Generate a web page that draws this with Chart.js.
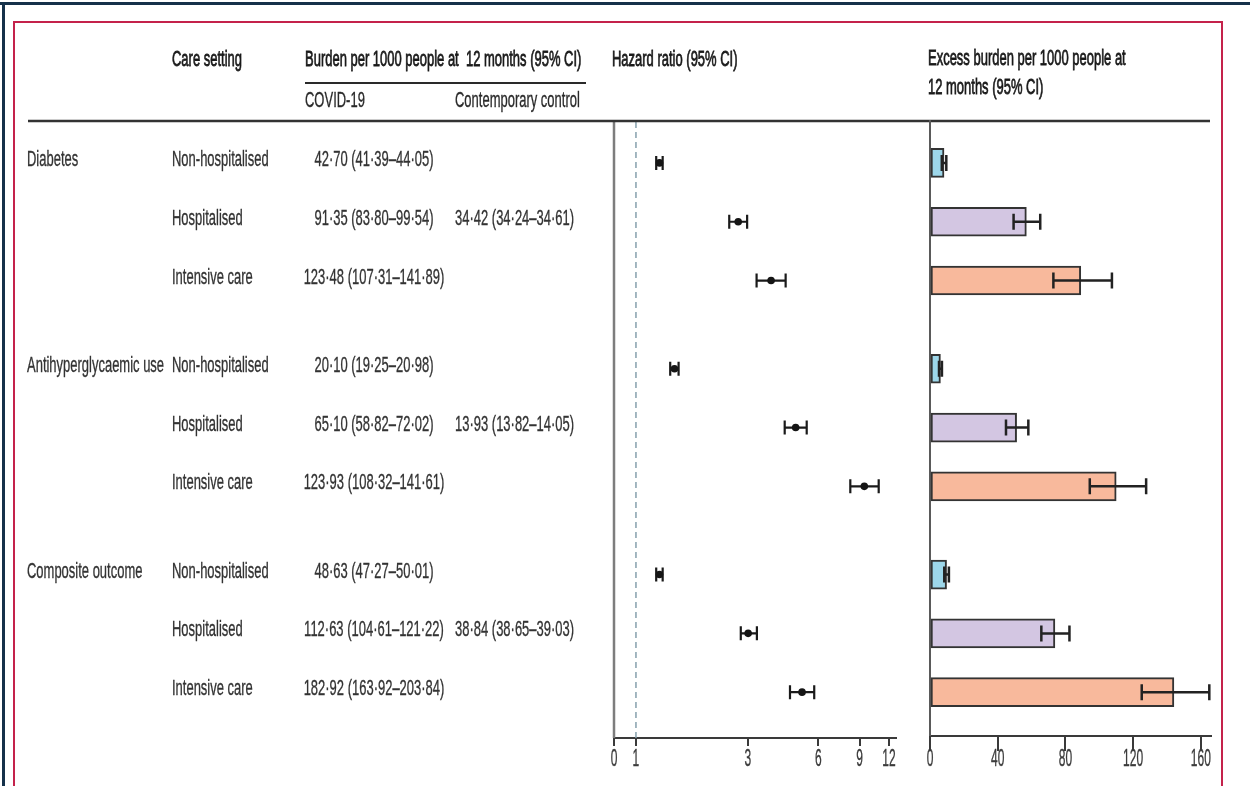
<!DOCTYPE html>
<html>
<head>
<meta charset="utf-8">
<script src="https://cdn.jsdelivr.net/npm/chart.js@4.4.1/dist/chart.umd.min.js"></script>
<style>
  html, body { margin: 0; padding: 0; background: #ffffff; }
  #figure { position: relative; width: 1250px; height: 786px; overflow: hidden; background: #ffffff; }
  #figure canvas { position: absolute; left: 0; top: 0; }
</style>
</head>
<body>
<div id="figure">
  <canvas id="hazardCanvas" width="1250" height="786"></canvas>
  <canvas id="burdenCanvas" width="1250" height="786"></canvas>
</div>
<script>
// ---- data ---------------------------------------------------------------
const outcomes = ['Diabetes', 'Antihyperglycaemic use', 'Composite outcome'];
const careSettings = ['Non-hospitalised', 'Hospitalised', 'Intensive care'];

// Burden per 1000 people at 12 months, COVID-19 group (one entry per outcome x care setting)
const covidBurden = [42.70, 91.35, 123.48, 20.10, 65.10, 123.93, 48.63, 112.63, 182.92];
const covidLower  = [41.39, 83.80, 107.31, 19.25, 58.82, 108.32, 47.27, 104.61, 163.92];
const covidUpper  = [44.05, 99.54, 141.89, 20.98, 72.02, 141.61, 50.01, 121.22, 203.84];

// Burden per 1000 people at 12 months, contemporary control (one entry per outcome)
const controlBurden = [34.42, 13.93, 38.84];
const controlLower  = [34.24, 13.82, 38.65];
const controlUpper  = [34.61, 14.05, 39.03];

// Hazard ratio (95% CI)
const hazardRatio = [1.26, 2.73, 3.77, 1.46, 4.80, 9.42, 1.26, 3.01, 5.11];
const hazardLower = [1.22, 2.50, 3.27, 1.40, 4.31, 8.21, 1.22, 2.80, 4.54];
const hazardUpper = [1.30, 2.98, 4.35, 1.52, 5.35, 10.85, 1.30, 3.28, 5.76];

// Excess burden per 1000 people at 12 months (95% CI)
const excessBurden = [8.28, 56.93, 89.06, 6.17, 51.17, 110.00, 9.79, 73.79, 144.08];
const excessLower  = [6.97, 49.38, 72.89, 5.32, 44.89, 94.39, 8.43, 65.77, 125.08];
const excessUpper  = [9.63, 65.12, 107.47, 7.05, 58.09, 127.68, 11.17, 82.38, 165.00];

// Axis tick labels
const hazardTicks = [0, 1, 3, 6, 9, 12];
const burdenTicks = [0, 40, 80, 120, 160];

// ---- layout & style -----------------------------------------------------
const settingColours = ['#9dd7ea', '#d3c6e2', '#f8b99c'];
const FONT = '"Liberation Sans", Arial, sans-serif';
const SQUEEZE = 0.59;          // condensed lettering
const GROUP_GAP = 0.5;         // blank space between outcome blocks, in rows
const ROW_MIN = -0.73;
const HR_ROW_MAX = 9.78;
const BAR_ROW_MAX = 9.745;

function rowPos(i) {
  return Math.floor(i / 3) * (3 + GROUP_GAP) + (i % 3);
}
function fmt(v) {
  return v.toFixed(2).replace('.', '\u00B7');
}
function interval(v, lo, hi) {
  return fmt(v) + ' (' + fmt(lo) + '\u2013' + fmt(hi) + ')';
}
function drawText(ctx, str, x, y, opts) {
  const o = Object.assign({ size: 22, color: '#333333', align: 'left', squeeze: SQUEEZE, weight: 0.35 }, opts || {});
  ctx.save();
  ctx.font = o.size + 'px ' + FONT;
  ctx.fillStyle = o.color;
  ctx.textBaseline = 'middle';
  ctx.textAlign = o.align;
  ctx.translate(x, y);
  ctx.scale(o.squeeze, 1);
  ctx.fillText(str, 0, 0);
  if (o.weight > 0) {
    ctx.strokeStyle = o.color;
    ctx.lineWidth = o.weight;
    ctx.strokeText(str, 0, 0);
  }
  ctx.restore();
}
function hLine(ctx, x1, x2, y, color, width) {
  ctx.save();
  ctx.strokeStyle = color; ctx.lineWidth = width;
  ctx.beginPath(); ctx.moveTo(x1, y); ctx.lineTo(x2, y); ctx.stroke();
  ctx.restore();
}
function vLine(ctx, x, y1, y2, color, width, dash) {
  ctx.save();
  ctx.strokeStyle = color; ctx.lineWidth = width;
  if (dash) ctx.setLineDash(dash);
  ctx.beginPath(); ctx.moveTo(x, y1); ctx.lineTo(x, y2); ctx.stroke();
  ctx.restore();
}
function errorBar(ctx, x1, x2, y, cap, color, width) {
  ctx.save();
  ctx.strokeStyle = color; ctx.lineWidth = width; ctx.lineCap = 'butt';
  ctx.beginPath();
  ctx.moveTo(x1, y); ctx.lineTo(x2, y);
  ctx.moveTo(x1, y - cap); ctx.lineTo(x1, y + cap);
  ctx.moveTo(x2, y - cap); ctx.lineTo(x2, y + cap);
  ctx.stroke();
  ctx.restore();
}

// ---- frame, headers and the text table -----------------------------------
const tableLayer = {
  id: 'tableLayer',
  afterDraw(chart) {
    const ctx = chart.ctx;
    const yScale = chart.scales.y;

    // page border
    ctx.save();
    ctx.fillStyle = '#15314a';
    ctx.fillRect(0, 2, 1250, 3);
    ctx.fillRect(2, 2, 3, 784);
    ctx.strokeStyle = '#c4224b';
    ctx.lineWidth = 2;
    ctx.beginPath();
    ctx.moveTo(14, 786); ctx.lineTo(14, 22); ctx.lineTo(1222, 22); ctx.lineTo(1222, 786);
    ctx.stroke();
    ctx.restore();

    // column headers
    const head = { color: '#1a1a1a', weight: 0.8 };
    drawText(ctx, 'Care setting', 172, 60, head);
    drawText(ctx, 'Burden per 1000 people at  12 months (95% CI)', 305, 60, head);
    hLine(ctx, 305, 586, 83, '#2a2a2a', 2);
    drawText(ctx, 'COVID-19', 305, 101, { color: '#2a2a2a' });
    drawText(ctx, 'Contemporary control', 455, 101, { color: '#2a2a2a' });
    drawText(ctx, 'Hazard ratio (95% CI)', 612, 60, head);
    drawText(ctx, 'Excess burden per 1000 people at', 928, 59, head);
    drawText(ctx, '12 months (95% CI)', 928, 88, head);
    hLine(ctx, 28, 1210, 121, '#333333', 2.5);

    // table rows
    covidBurden.forEach((v, i) => {
      const g = Math.floor(i / 3);
      const k = i % 3;
      const y = yScale.getPixelForValue(rowPos(i)) - 3;
      if (k === 0) drawText(ctx, outcomes[g], 27, y);
      drawText(ctx, careSettings[k], 172, y);
      drawText(ctx, interval(v, covidLower[i], covidUpper[i]), 374, y, { align: 'center' });
      if (k === 1) {
        drawText(ctx, interval(controlBurden[g], controlLower[g], controlUpper[g]), 455, y);
      }
    });
  }
};

// ---- hazard ratio panel ---------------------------------------------------
const hazardLayer = {
  id: 'hazardLayer',
  beforeDatasetsDraw(chart) {
    const ctx = chart.ctx;
    const x = chart.scales.x;
    const y = chart.scales.y;
    const area = chart.chartArea;
    vLine(ctx, area.left, 120, area.bottom, '#7d7d7d', 2.5);
    vLine(ctx, x.getPixelForValue(1), 122, area.bottom, '#86a0ad', 1.5, [6, 4]);
    hazardRatio.forEach((v, i) => {
      const py = y.getPixelForValue(rowPos(i));
      errorBar(ctx, x.getPixelForValue(hazardLower[i]), x.getPixelForValue(hazardUpper[i]), py, 7, '#1a1a1a', 2.2);
    });
  },
  afterDraw(chart) {
    const ctx = chart.ctx;
    const x = chart.scales.x;
    hazardTicks.forEach(t => {
      const px = t === 0 ? x.left : x.getPixelForValue(t);
      drawText(ctx, String(t), px, 759, { size: 24, squeeze: 0.5, align: 'center', color: '#3b3b3b' });
    });
  }
};

new Chart(document.getElementById('hazardCanvas'), {
  type: 'scatter',
  data: {
    datasets: [{
      data: hazardRatio.map((v, i) => ({ x: v, y: rowPos(i) })),
      pointRadius: 3.8,
      pointHoverRadius: 3.8,
      pointBackgroundColor: '#151515',
      pointBorderWidth: 0
    }]
  },
  options: {
    responsive: false,
    animation: false,
    events: [],
    layout: { padding: { left: 614, right: 354, top: 120, bottom: 0 } },
    plugins: { legend: { display: false }, tooltip: { enabled: false } },
    scales: {
      x: {
        type: 'logarithmic',
        min: 0.806,
        max: 12.86,
        afterBuildTicks: s => { s.ticks = hazardTicks.map(t => ({ value: t === 0 ? s.min : t })); },
        afterFit: s => { s.height = 48; },
        ticks: { display: false },
        grid: { drawOnChartArea: false, drawTicks: true, tickLength: 8, color: '#3a3a3a', lineWidth: 2 },
        border: { display: true, color: '#3a3a3a', width: 2 }
      },
      y: { type: 'linear', min: ROW_MIN, max: HR_ROW_MAX, reverse: true, display: false }
    }
  },
  plugins: [tableLayer, hazardLayer]
});

// ---- excess burden panel --------------------------------------------------
const burdenLayer = {
  id: 'burdenLayer',
  beforeDatasetsDraw(chart) {
    const area = chart.chartArea;
    vLine(chart.ctx, area.left, 120, area.bottom, '#5a5a5a', 2);
  },
  afterDatasetsDraw(chart) {
    const ctx = chart.ctx;
    const x = chart.scales.x;
    const y = chart.scales.y;
    excessBurden.forEach((v, i) => {
      const py = y.getPixelForValue(rowPos(i));
      errorBar(ctx, x.getPixelForValue(excessLower[i]), x.getPixelForValue(excessUpper[i]), py, 8, '#222222', 2.5);
    });
  },
  afterDraw(chart) {
    const ctx = chart.ctx;
    const x = chart.scales.x;
    burdenTicks.forEach(t => {
      drawText(ctx, String(t), x.getPixelForValue(t), 759, { size: 24, squeeze: 0.5, align: 'center', color: '#3b3b3b' });
    });
  }
};

new Chart(document.getElementById('burdenCanvas'), {
  type: 'bar',
  data: {
    datasets: [{
      data: excessBurden.map((v, i) => ({ x: v, y: rowPos(i) })),
      backgroundColor: excessBurden.map((v, i) => settingColours[i % 3]),
      borderColor: '#333333',
      borderWidth: 2,
      borderSkipped: false,
      barThickness: 29
    }]
  },
  options: {
    indexAxis: 'y',
    responsive: false,
    animation: false,
    events: [],
    layout: { padding: { left: 930, right: 39, top: 120, bottom: 0 } },
    plugins: { legend: { display: false }, tooltip: { enabled: false } },
    scales: {
      x: {
        type: 'linear',
        min: 0,
        max: 166,
        afterBuildTicks: s => { s.ticks = burdenTicks.map(t => ({ value: t })); },
        afterFit: s => { s.height = 50; },
        ticks: { display: false },
        grid: { drawOnChartArea: false, drawTicks: true, tickLength: 15, color: '#3a3a3a', lineWidth: 2 },
        border: { display: true, color: '#3a3a3a', width: 2 }
      },
      y: { type: 'linear', min: ROW_MIN, max: BAR_ROW_MAX, reverse: true, offset: false, display: false }
    }
  },
  plugins: [burdenLayer]
});
</script>
</body>
</html>
